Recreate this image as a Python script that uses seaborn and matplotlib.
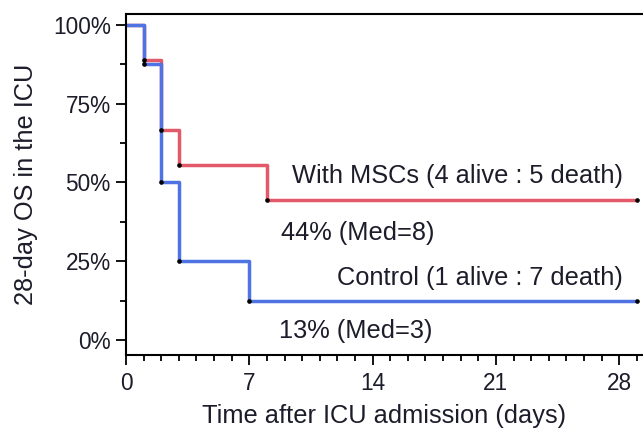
import matplotlib

matplotlib.use("Agg")

import matplotlib.pyplot as plt
import numpy as np
import pandas as pd
import seaborn as sns
from matplotlib.ticker import FuncFormatter, MultipleLocator

sns.set_theme(style="white")
plt.rcParams["font.family"] = ["Liberation Sans", "DejaVu Sans"]

# Kaplan-Meier steps (survival in %)
msc_days = [0, 1, 2, 3, 8, 29]
msc_surv = [100, 88.9, 66.7, 55.6, 44.4, 44.4]
ctrl_days = [0, 1, 2, 3, 7, 29]
ctrl_surv = [100, 87.5, 50, 25, 12.5, 12.5]

group_names = ["With MSCs", "Control"]
group_labels = ["With MSCs (4 alive : 5 death)", "Control (1 alive : 7 death)"]
median_labels = ["44% (Med=8)", "13% (Med=3)"]

x_ticks = [0, 7, 14, 21, 28]
y_ticks = [0, 25, 50, 75, 100]

df = pd.concat(
    [
        pd.DataFrame({"day": msc_days, "surv": msc_surv, "group": group_names[0]}),
        pd.DataFrame({"day": ctrl_days, "surv": ctrl_surv, "group": group_names[1]}),
    ],
    ignore_index=True,
)
events = df[df["day"] > 0]

palette = {"With MSCs": "#e25a6a", "Control": "#4f73e2"}
ink = "#1c1c2a"
fs = 18.3

fig = plt.figure(figsize=(6.43, 4.29), dpi=100)
ax = fig.add_axes([0.196, 0.1725, 0.804, 0.795])

sns.lineplot(
    data=df,
    x="day",
    y="surv",
    hue="group",
    hue_order=group_names,
    palette=palette,
    estimator=None,
    drawstyle="steps-post",
    linewidth=2.5,
    legend=False,
    ax=ax,
)
sns.scatterplot(
    data=events, x="day", y="surv", color="black", s=11, linewidth=0, zorder=5,
    legend=False, ax=ax,
)

ax.set_xlim(0, 29.35)
ax.set_ylim(-4.8, 103.5)
ax.set_xticks(x_ticks)
ax.set_yticks(y_ticks)
ax.xaxis.set_minor_locator(MultipleLocator(1))
ax.yaxis.set_minor_locator(MultipleLocator(12.5))
ax.yaxis.set_major_formatter(FuncFormatter(lambda v, _: f"{v:.0f}%"))

ax.tick_params(axis="both", which="major", direction="out", length=7.5, width=1.3,
               labelsize=16.3, colors="black", labelcolor=ink, left=True, bottom=True)
ax.tick_params(axis="x", which="major", pad=5)
ax.tick_params(axis="both", which="minor", direction="out", length=4, width=1.3,
               colors="black", left=True, bottom=True)

for side in ["left", "bottom", "top"]:
    ax.spines[side].set_visible(True)
    ax.spines[side].set_color("black")
    ax.spines[side].set_linewidth(1.5)
ax.spines["right"].set_visible(False)

ax.set_xlabel("Time after ICU admission (days)", fontsize=fs, color=ink, labelpad=6)
ax.set_ylabel("28-day OS in the ICU", fontsize=fs, color=ink, labelpad=11)

ax.text(28.2, 52.0, group_labels[0], ha="right", va="center", fontsize=fs, color=ink)
ax.text(8.8, 34, median_labels[0], ha="left", va="center", fontsize=fs, color=ink)
ax.text(28.2, 19.5, group_labels[1], ha="right", va="center", fontsize=fs, color=ink)
ax.text(8.7, 2.8, median_labels[1], ha="left", va="center", fontsize=fs, color=ink)

fig.savefig("out.png", dpi=100)
plt.close(fig)
